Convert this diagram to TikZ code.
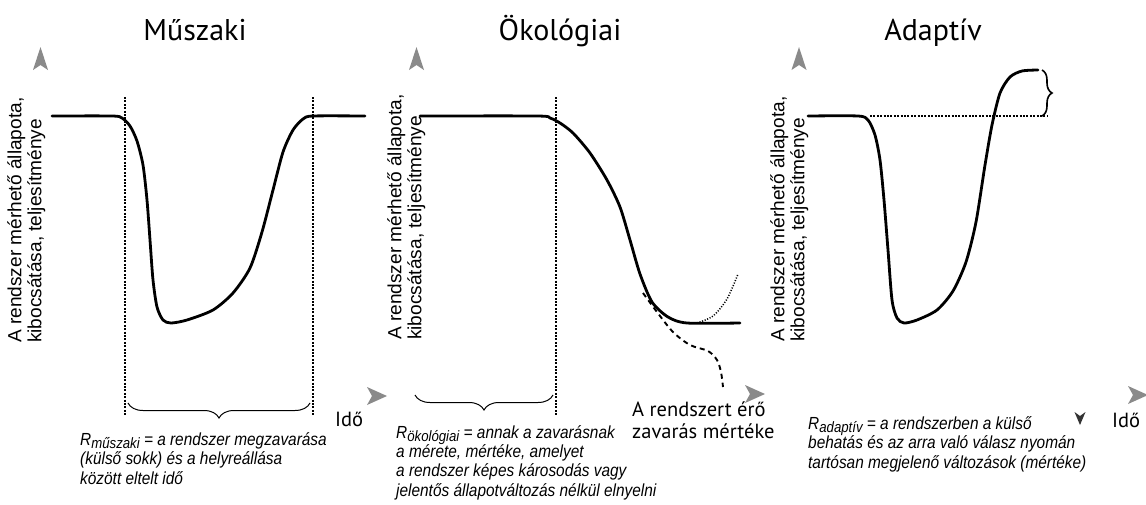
\documentclass[tikz,border=0pt]{standalone}
\usepackage{fontspec}
\setmainfont{Liberation Sans}
\newfontfamily\titlefont{PT Sans}
\newfontfamily\capfont[FakeStretch=0.88]{Liberation Sans}
\usetikzlibrary{decorations.pathreplacing}
\definecolor{arrgray}{HTML}{8A8A8A}
\definecolor{darkarr}{HTML}{333333}
\tikzset{
  curve/.style={line width=2.8pt, line cap=round, line join=round},
  vdots/.style={line width=2.6pt, dash pattern=on 2pt off 1.4pt},
  thindots/.style={line width=1.5pt, dash pattern=on 1.1pt off 1.6pt},
  dashcurve/.style={line width=1.9pt, dash pattern=on 5pt off 4pt},
  titletext/.style={inner sep=0, font=\fontsize{30}{34}\titlefont},
  ylab/.style={inner sep=0, align=left, rotate=90, anchor=north west, font=\fontsize{19.1}{20}\selectfont},
  idotext/.style={inner sep=0, anchor=base west, font=\fontsize{20.5}{21.5}\titlefont},
  captext/.style={inner sep=0, anchor=base west, align=left, font=\fontsize{17.5}{19.3}\capfont\itshape},
  bracebot/.style={decorate, decoration={brace, mirror, amplitude=15pt}, line width=1pt},
  braceright/.style={decorate, decoration={brace, amplitude=10pt}, line width=1.6pt},
  uparr/.pic={\fill[arrgray] (-7.5,23) -- (0,0) -- (7.5,23) -- (0,18) -- cycle;},
  rightarr/.pic={\fill[arrgray] (-20,-9) -- (0,0) -- (-20,9) -- (-15,0) -- cycle;},
  downarr/.pic={\fill[darkarr] (-5.5,-13) -- (0,-9) -- (5.5,-13) -- (0,0) -- cycle;}
}
\newcommand{\Rsub}[1]{R\raisebox{-3pt}{\fontsize{15}{15}\selectfont #1}}
\begin{document}
\begin{tikzpicture}[x=1pt,y=-1pt]
\useasboundingbox (0,0) rectangle (1146,504);
\fill[white] (0,0) rectangle (1146,504);

% ---------- Panel 1: Muszaki ----------
\node[titletext, anchor=base] (t1) at (195,40) {Műszaki};
\pic at (40.5,47) {uparr};
\pic at (387,396) {rightarr};
\node[ylab] (y1) at (7,343) {A rendszer mérhető állapota,\\kibocsátása, teljesítménye};
\coordinate (d1a) at (125,97);  \coordinate (d1b) at (125,416);
\coordinate (d2a) at (313,97);  \coordinate (d2b) at (313,416);
\draw[vdots] (d1a) -- (d1b);
\draw[vdots] (d2a) -- (d2b);
\draw[curve] plot[smooth, tension=0.45] coordinates {
 (52,116) (112,116) (122,118) (130,126) (137,141) (143,165) (147,200) (150,240)
 (153,280) (157,307) (163,320) (171,323) (187,320) (213,310) (233,293) (250,268)
 (262,232) (273,190) (283,152) (293,130) (303,119) (313,116) (365,116)};
\coordinate (b1a) at (128,403); \coordinate (b1b) at (310,403);
\draw[bracebot] (b1a) -- (b1b);
\node[idotext] (ido1) at (335,426) {Idő};
\node[captext] (c1) at (80,484) {\Rsub{műszaki} = a rendszer megzavarása\\(külső sokk) és a helyreállása\\között eltelt idő};

% ---------- Panel 2: Okologiai ----------
\node[titletext, anchor=base] (t2) at (560,40) {Ökológiai};
\pic at (416.5,47) {uparr};
\pic at (765,394) {rightarr};
\node[ylab] (y2) at (387,340) {A rendszer mérhető állapota,\\kibocsátása, teljesítménye};
\coordinate (d3a) at (556,97);  \coordinate (d3b) at (556,415);
\draw[vdots] (d3a) -- (d3b);
\draw[curve] plot[smooth, tension=0.45] coordinates {
 (420,116) (537,116) (550,118) (560,123) (573,133) (590,153) (607,180) (620,207)
 (630,240) (640,274) (652,302) (668,317) (687,323) (740,323)};
\draw[thindots] plot[smooth, tension=0.5] coordinates {(697,323) (713,316) (727,299) (738,274)};
\draw[dashcurve] plot[smooth, tension=0.5] coordinates {
 (643,293) (657,312) (673,332) (690,345) (708,351) (717,360) (721,372) (723,387)};
\coordinate (b2a) at (415,395); \coordinate (b2b) at (553,395);
\draw[bracebot] (b2a) -- (b2b);
\node[idotext, align=left] (zav) at (632,438) {A rendszert érő\\zavarás mértéke};
\node[captext] (c2) at (396,496) {\Rsub{ökológiai} = annak a zavarásnak\\a mérete, mértéke, amelyet\\a rendszer képes károsodás vagy\\jelentős állapotváltozás nélkül elnyelni};

% ---------- Panel 3: Adaptiv ----------
\node[titletext, anchor=base] (t3) at (933,40) {Adaptív};
\pic at (799,47) {uparr};
\pic at (1148,395) {rightarr};
\pic at (1080,425) {downarr};
\node[ylab] (y3) at (770,342) {A rendszer mérhető állapota,\\kibocsátása, teljesítménye};
\coordinate (h1) at (870,116); \coordinate (h2) at (1048,116);
\draw[vdots] (h1) -- (h2);
\draw[curve] plot[smooth, tension=0.45] coordinates {
 (808,116) (858,116) (868,120) (875,135) (880,160) (884,200) (888,250) (892,300)
 (897,318) (904,323) (917,320) (937,310) (953,291) (966,262) (976,222) (985,165)
 (992,125) (1000,93) (1010,77) (1022,71) (1038,70)};
\coordinate (b3a) at (1042,70); \coordinate (b3b) at (1042,116);
\draw[braceright] (b3a) -- (b3b);
\node[idotext] (ido3) at (1112,427) {Idő};
\node[captext] (c3) at (808,468) {\Rsub{adaptív} = a rendszerben a külső\\behatás és az arra való válasz nyomán\\tartósan megjelenő változások (mértéke)};
\end{tikzpicture}
\end{document}
